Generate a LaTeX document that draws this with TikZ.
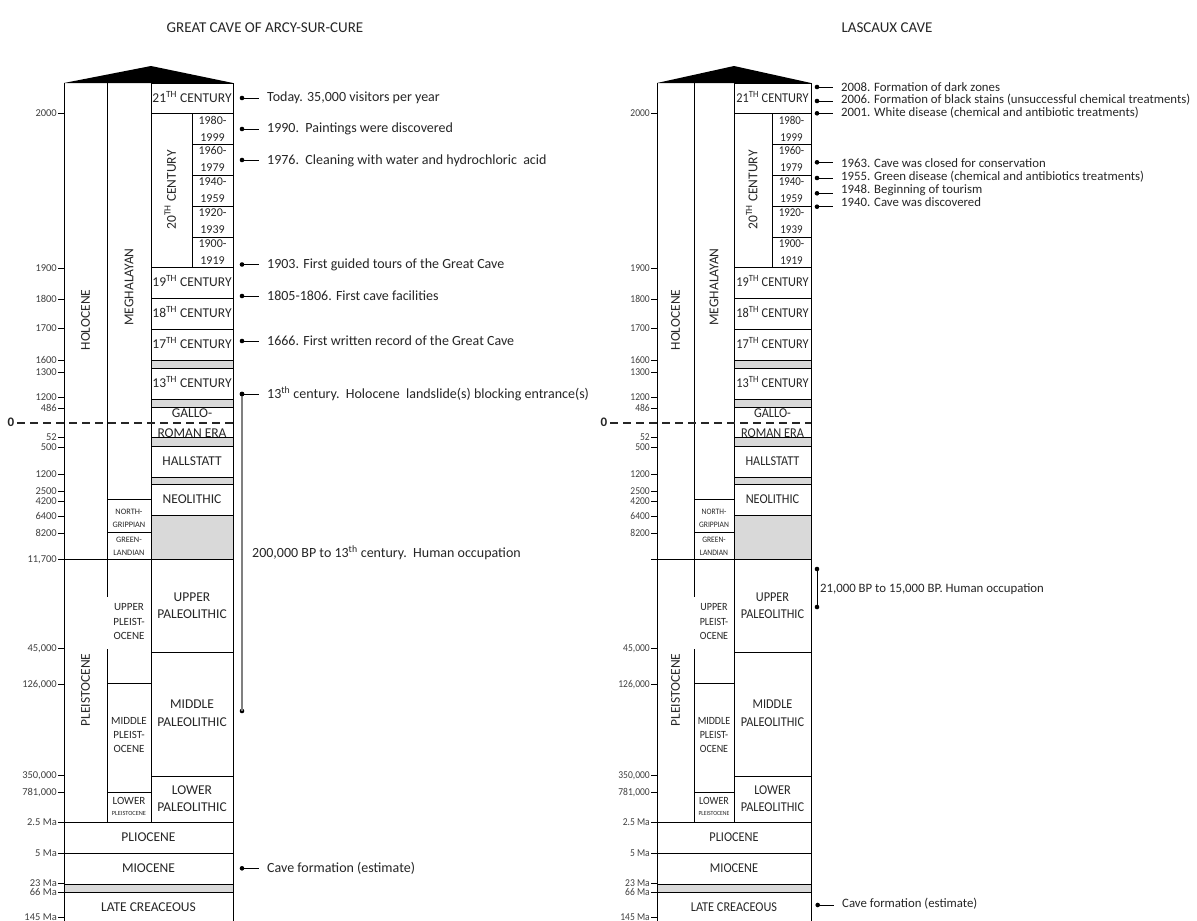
\documentclass[tikz,border=0pt]{standalone}
\usepackage{fontspec}
\setmainfont{Carlito}
\usepackage{graphicx}
\definecolor{band}{RGB}{217,217,217}
\definecolor{txt}{RGB}{38,38,38}
\definecolor{tk}{RGB}{64,64,64}
\definecolor{occ}{RGB}{128,128,128}
\newcommand\fs[1]{\fontsize{#1}{#1}\selectfont}
\newcommand\sx[1]{\scalebox{\colsx}[1]{#1}}
\def\colsx{1}
\def\annsize{14}
\tikzset{
 grid/.style={line width=0.9pt, black},
 lbl/.style={font=\fs{13.5}, inner sep=0, text height=8.6pt, text depth=0pt, text=txt},
 yrs/.style={font=\fs{12}, inner sep=0, text height=7.6pt, text depth=0pt, text=txt},
 sml/.style={font=\fs{11}, inner sep=0, text height=7pt, text depth=0pt, text=txt},
 tinyl/.style={font=\fs{8.3}, inner sep=0, text height=5.3pt, text depth=0pt, text=txt},
 vlbl/.style={font=\fs{13.5}, inner sep=0, rotate=90, text=txt, text height=8.6pt, text depth=0pt},
 ticklbl/.style={font=\fs{10.5}, inner sep=0, anchor=east, text=tk, text height=6.6pt, text depth=0pt},
 ann/.style={font=\fs{\annsize}, anchor=west, inner ysep=0, inner xsep=8pt, text=txt, text height=8.8pt, text depth=0pt},
 dotn/.style={circle, fill=black, inner sep=0, minimum size=4.6pt},
 conn/.style={line width=0.9pt, black},
 occline/.style={line width=1.8pt, occ},
 titlel/.style={font=\fs{15}, text=txt, inner sep=0},
 zero/.style={font=\bfseries\fs{13}, inner sep=0, text=txt},
 dashl/.style={line width=1.8pt, dash pattern=on 8pt off 5pt, black!85},
}
% #1 prefix, #2..#6 x of the five column lines
\newcommand\GeoCol[6]{%
 \pgfmathsetmacro\xab{(#2+#3)/2}%
 \pgfmathsetmacro\xbc{(#3+#4)/2}%
 \pgfmathsetmacro\xce{(#4+#6)/2}%
 \pgfmathsetmacro\xcd{(#4+#5)/2}%
 \pgfmathsetmacro\xde{(#5+#6)/2}%
 \pgfmathsetmacro\xae{(#2+#6)/2}%
 \fill[band] (#4,360) rectangle (#6,368);
 \fill[band] (#4,399) rectangle (#6,407);
 \fill[band] (#4,437) rectangle (#6,446);
 \fill[band] (#4,477) rectangle (#6,484);
 \fill[band] (#4,515) rectangle (#6,559);
 \fill[band] (#2,884) rectangle (#6,892);
 \fill[black] (#2,83) -- (#4,66) -- (#6,83) -- cycle;
 \draw[grid] (#2,83) -- (#2,925);
 \draw[grid] (#6,83) -- (#6,925);
 \draw[grid] (#3,83) -- (#3,597) (#3,649) -- (#3,822);
 \draw[grid] (#4,83) -- (#4,822);
 \draw[grid] (#5,113) -- (#5,267);
 \foreach \y in {83,113,267,298,329,360,368,399,407,437,446,477,484,515,652,776} \draw[grid] (#4,\y) -- (#6,\y);
 \foreach \y in {144,175.5,206,237} \draw[grid] (#5,\y) -- (#6,\y);
 \foreach \y in {499,532,683,792} \draw[grid] (#3,\y) -- (#4,\y);
 \foreach \y in {559,822,853,884,892} \draw[grid] (#2,\y) -- (#6,\y);
 \node[lbl] (#1c21) at (\xce,98) {\sx{21\textsuperscript{TH} CENTURY}};
 \node[vlbl] (#1c20) at (\xcd,190) {20\textsuperscript{TH} CENTURY};
 \foreach \ya/\yb/\t/\u [count=\i] in {120.7/137.3/1980/1999, 150.7/167.7/1960/1979, 181.7/198.3/1940/1959, 212.7/230/1920/1939, 244/260.7/1900/1919}
  {\node[yrs] (#1ys\i) at (\xde,\ya) {\sx{\t-}}; \node[yrs] (#1ye\i) at (\xde,\yb) {\sx{\u}};}
 \node[lbl] (#1c19) at (\xce,282.5) {\sx{19\textsuperscript{TH} CENTURY}};
 \node[lbl] (#1c18) at (\xce,313.5) {\sx{18\textsuperscript{TH} CENTURY}};
 \node[lbl] (#1c17) at (\xce,344.5) {\sx{17\textsuperscript{TH} CENTURY}};
 \node[lbl] (#1c13) at (\xce,383.5) {\sx{13\textsuperscript{TH} CENTURY}};
 \node[lbl] (#1gallo) at (\xce,413.3) {\sx{GALLO-}};
 \node[lbl] (#1roman) at (\xce,432.7) {\sx{ROMAN ERA}};
 \node[lbl] (#1hall) at (\xce,461) {\sx{HALLSTATT}};
 \node[lbl] (#1neo) at (\xce,499.5) {\sx{NEOLITHIC}};
 \node[lbl] (#1upa) at (\xce,596.7) {\sx{UPPER}};
 \node[lbl] (#1upb) at (\xce,614) {\sx{PALEOLITHIC}};
 \node[lbl] (#1mpa) at (\xce,704.3) {\sx{MIDDLE}};
 \node[lbl] (#1mpb) at (\xce,722.3) {\sx{PALEOLITHIC}};
 \node[lbl] (#1lpa) at (\xce,790) {\sx{LOWER}};
 \node[lbl] (#1lpb) at (\xce,807.3) {\sx{PALEOLITHIC}};
 \node[lbl] (#1plio) at (\xae,837) {\sx{PLIOCENE}};
 \node[lbl] (#1mio) at (\xae,868.5) {\sx{MIOCENE}};
 \node[lbl] (#1late) at (\xae,906.7) {\sx{LATE CREACEOUS}};
 \node[vlbl] (#1holo) at (\xab,320) {HOLOCENE};
 \node[vlbl] (#1pleis) at (\xab,690) {PLEISTOCENE};
 \node[vlbl] (#1megh) at (\xbc,287) {MEGHALAYAN};
 \node[tinyl] (#1nga) at (\xbc,511.7) {\sx{NORTH-}};
 \node[tinyl] (#1ngb) at (\xbc,525) {\sx{GRIPPIAN}};
 \node[tinyl] (#1gla) at (\xbc,540) {\sx{GREEN-}};
 \node[tinyl] (#1glb) at (\xbc,552.7) {\sx{LANDIAN}};
 \node[sml] (#1ups1) at (\xbc,607) {\sx{UPPER}};
 \node[sml] (#1ups2) at (\xbc,622) {\sx{PLEIST-}};
 \node[sml] (#1ups3) at (\xbc,636) {\sx{OCENE}};
 \node[sml] (#1mps1) at (\xbc,721) {\sx{MIDDLE}};
 \node[sml] (#1mps2) at (\xbc,735) {\sx{PLEIST-}};
 \node[sml] (#1mps3) at (\xbc,749) {\sx{OCENE}};
 \node[sml] (#1lps1) at (\xbc,800.7) {\sx{LOWER}};
 \node[font=\fs{6.3}, inner sep=0, text=txt] (#1lps2) at (\xbc,813) {\sx{PLEISTOCENE}};
 \draw[dashl] (#2-47,422.7) -- (#6,422.7);
 \node[zero] (#1zero) at (#2-53,422.7) {0};
}
% #1 prefix, #2 x of left line, #3 list y/label
\newcommand\GeoTicks[3]{%
 \foreach \y/\t in {#3} {\draw[grid] (#2-6,\y) -- (#2,\y); \node[ticklbl] (#1t\y) at (#2-7,\y) {\sx{\t}};}
}
% #1 name, #2 dot x, #3 dot y, #4 text x, #5 text y, #6 text
\newcommand\Ann[6]{%
 \node[dotn] (#1d) at (#2,#3) {};
 \node[ann] (#1) at (#4-8,#5) {#6};
 \draw[conn] (#1d.center) -- (#1d.center -| #1.west);
}
\begin{document}
\begin{tikzpicture}[x=1pt,y=-1pt]
\useasboundingbox (0,0) rectangle (1197,921);
\fill[white] (0,0) rectangle (1197,921);
\node[titlel] (t1) at (265,28) {GREAT CAVE OF ARCY-SUR-CURE};
\node[titlel] (t2) at (887,28) {LASCAUX CAVE};

% ---------- left ----------
\def\colsx{1}
\GeoCol{L}{64}{107}{151}{192}{233}
\GeoTicks{L}{64}{113/2000, 268/1900, 299/1800, 328/1700, 360/1600, 372/1300, 397/1200, 408/486, 437/52, 447/500, 474/1200, 491/2500, 501/4200, 516/6400, 533/8200, 559/{11,700}, 648/{45,000}, 684/{126,000}, 775/{350,000}, 792/{781,000}, 822/2.5 Ma, 853/5 Ma, 883/23 Ma, 892/66 Ma, 917/145 Ma}

% occupation line (left)
\node[dotn] (Locc) at (242,711) {};
\node[dotn] (Lland0) at (242,394) {};
\draw[occline] (Lland0.center) -- (Locc.center);
\node[ann, inner xsep=0] (Locct) at (252,553) {200,000 BP to 13\textsuperscript{th} century.\ \ Human occupation};

\Ann{La}{242}{98}{267}{97}{Today. 35,000 visitors per year}
\Ann{Lb}{242}{129}{267}{128.5}{1990.\ \ Paintings were discovered}
\Ann{Lc}{242}{160}{267}{160}{1976.\ \ Cleaning with water and hydrochloric\ \ acid}
\Ann{Ld}{242}{264.5}{267}{264.3}{1903. First guided tours of the Great Cave}
\Ann{Le}{242}{296}{267}{295.7}{1805-1806. First cave facilities}
\Ann{Lf}{242}{341}{267}{341}{1666. First written record of the Great Cave}
\Ann{Lg}{242}{394}{267}{394}{13\textsuperscript{th} century.\ \ Holocene\ \ landslide(s) blocking entrance(s)}
\Ann{Lh}{242}{868.3}{267}{868}{Cave formation (estimate)}

% ---------- right ----------
\def\colsx{0.91}
\def\annsize{12.8}
\GeoCol{R}{657}{694}{734}{772}{811}
\GeoTicks{R}{657}{113/2000, 268/1900, 299/1800, 328/1700, 360/1600, 372/1300, 397/1200, 408/486, 437/52, 447/500, 474/1200, 491/2500, 501/4200, 516/6400, 533/8200, 559/{}, 648/{45,000}, 684/{126,000}, 775/{350,000}, 792/{781,000}, 822/2.5 Ma, 853/5 Ma, 883/23 Ma, 892/66 Ma, 917/145 Ma}

\Ann{Ra}{817}{87}{841}{87}{2008. Formation of dark zones}
\Ann{Rb}{817}{101}{841}{99.5}{2006. Formation of black stains (unsuccessful chemical treatments)}
\Ann{Rc}{817}{113.3}{841}{112.5}{2001. White disease (chemical and antibiotic treatments)}
\Ann{Rd}{817}{162.3}{841}{162.7}{1963. Cave was closed for conservation}
\Ann{Re}{817}{178}{841}{176}{1955. Green disease (chemical and antibiotics treatments)}
\Ann{Rf}{817}{193.3}{841}{189.3}{1948. Beginning of tourism}
\Ann{Rg}{817}{206.7}{841}{202}{1940. Cave was discovered}
\Ann{Rh}{817.7}{905}{842}{903}{Cave formation (estimate)}

\node[dotn] (Rocc1) at (817,569) {};
\node[dotn] (Rocc2) at (817,607) {};
\draw[conn] (Rocc1.center) -- (Rocc2.center);
\node[ann, inner xsep=0] (Rocct) at (820,588) {21,000 BP to 15,000 BP. Human occupation};
\end{tikzpicture}
\end{document}
